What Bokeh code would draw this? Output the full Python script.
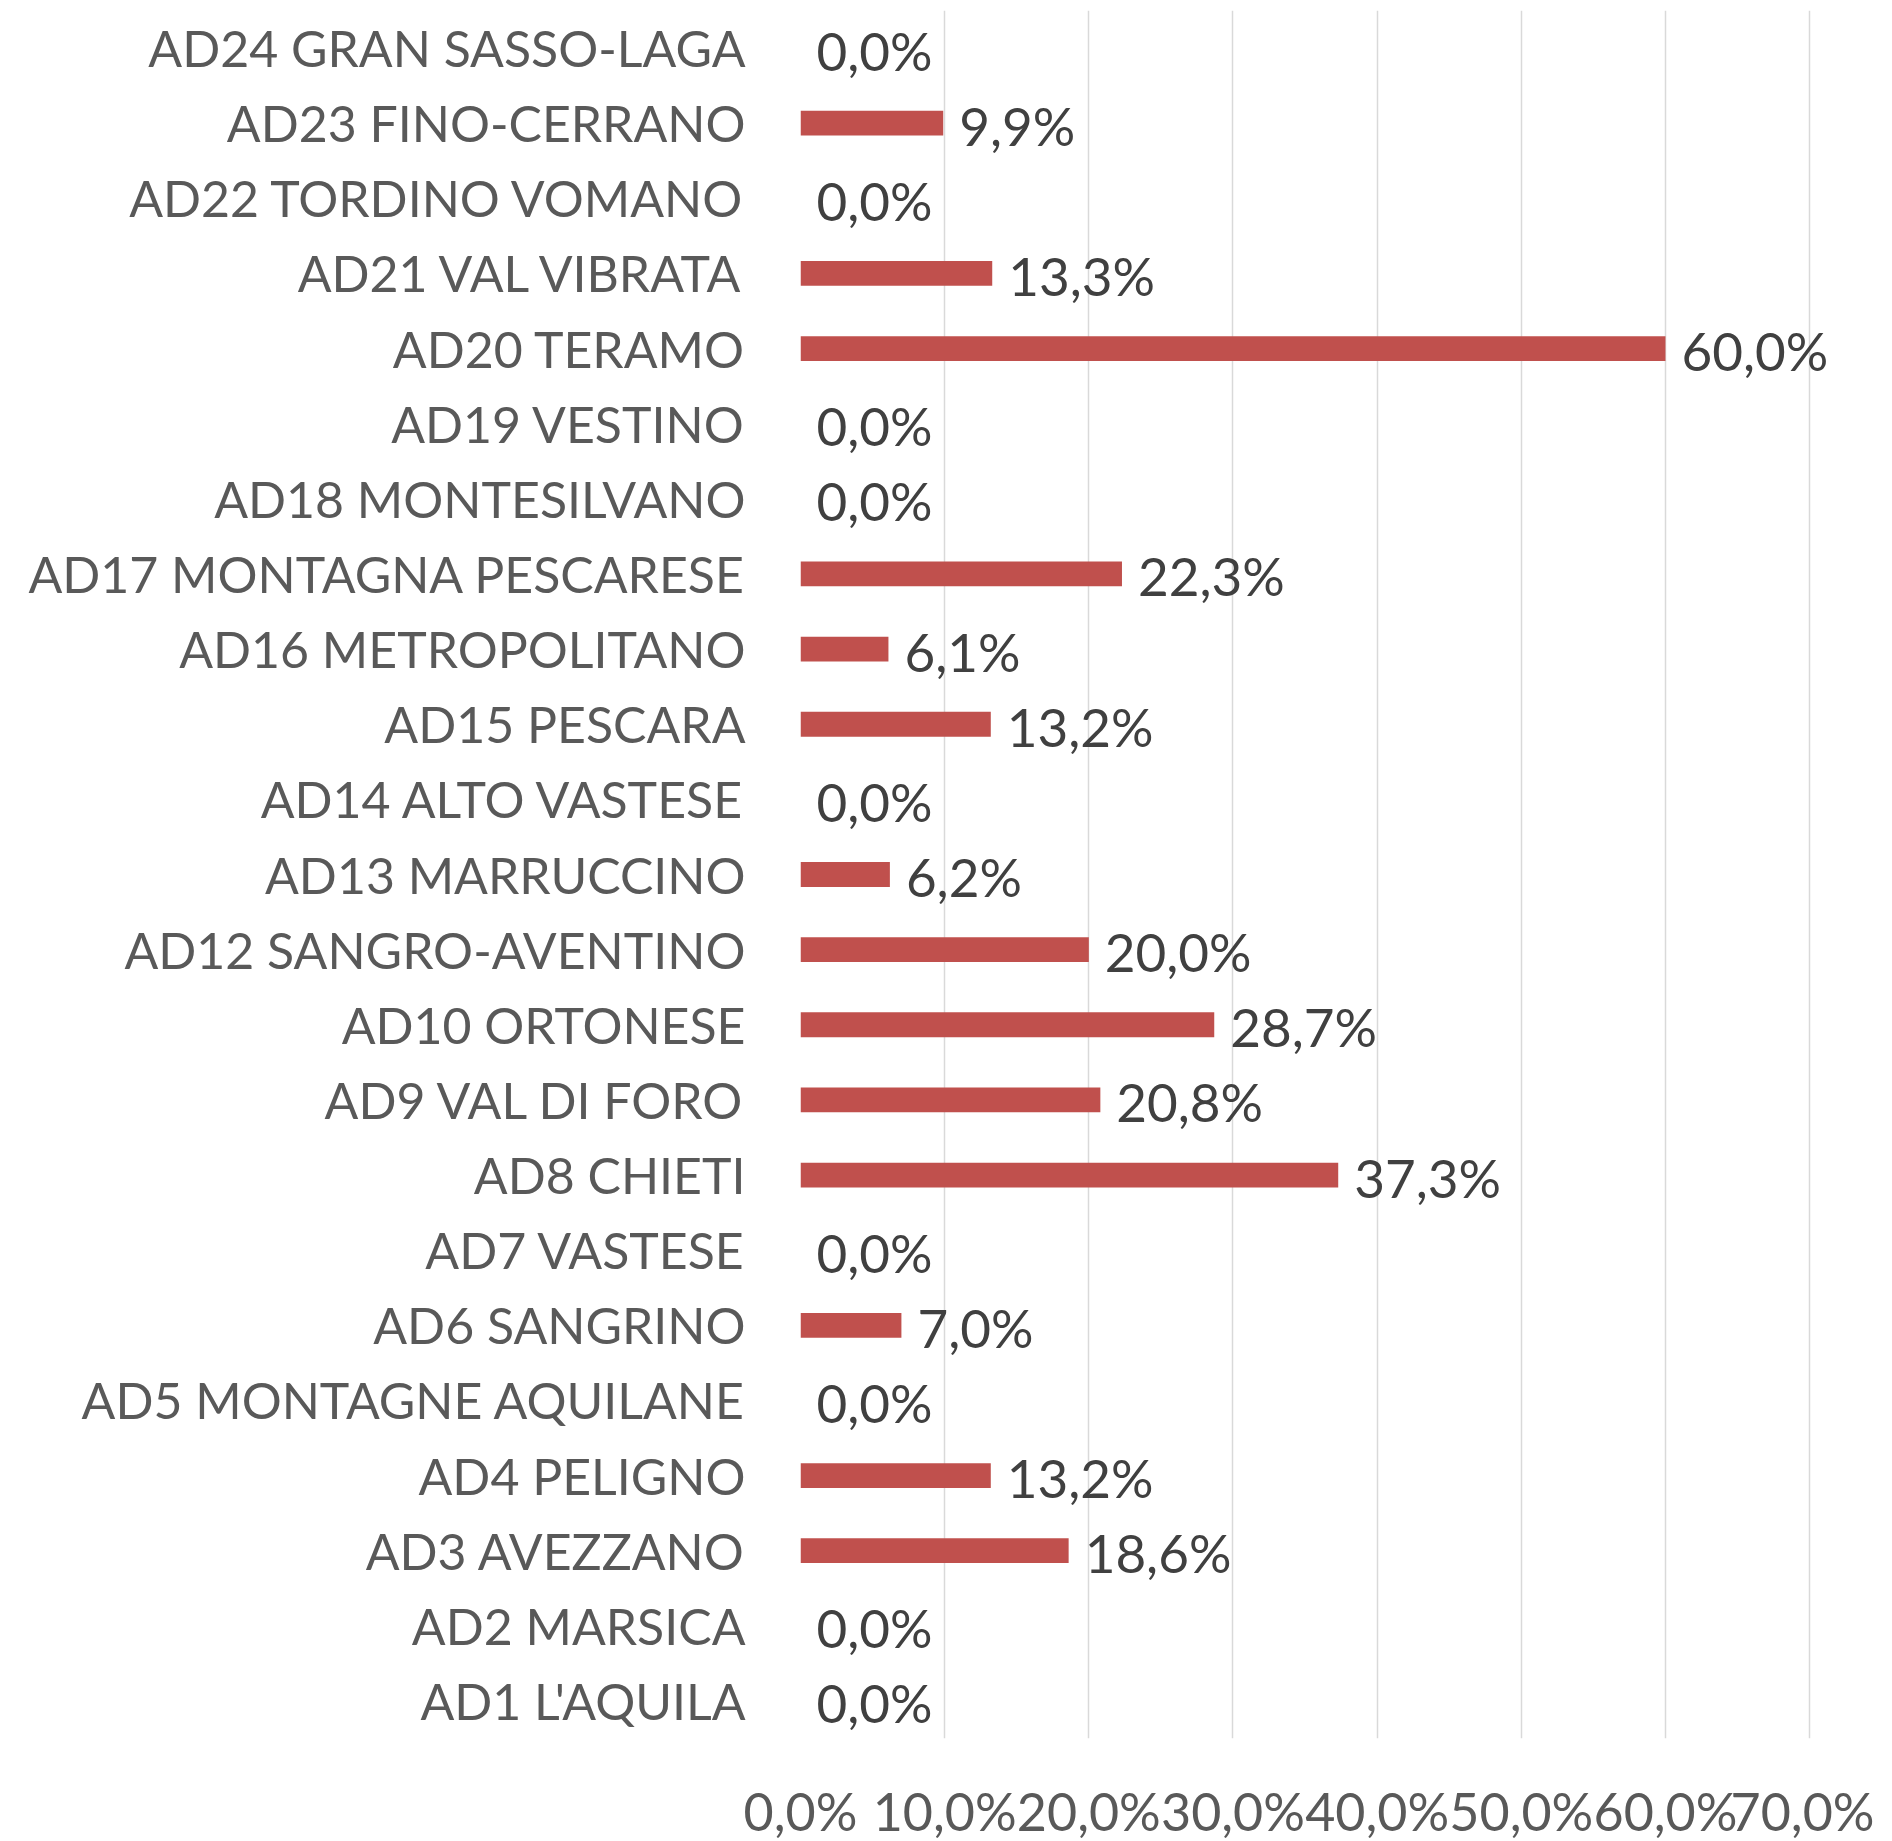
from bokeh.plotting import figure
from bokeh.models import Range1d, FixedTicker, ColumnDataSource
from bokeh.core.properties import value
from bokeh.embed import file_html
from bokeh.resources import INLINE

categories = ["AD1 L'AQUILA", "AD2 MARSICA", "AD3 AVEZZANO", "AD4 PELIGNO",
              "AD5 MONTAGNE AQUILANE", "AD6 SANGRINO", "AD7 VASTESE", "AD8 CHIETI",
              "AD9 VAL DI FORO", "AD10 ORTONESE", "AD12 SANGRO-AVENTINO",
              "AD13 MARRUCCINO", "AD14 ALTO VASTESE", "AD15 PESCARA",
              "AD16 METROPOLITANO", "AD17 MONTAGNA PESCARESE", "AD18 MONTESILVANO",
              "AD19 VESTINO", "AD20 TERAMO", "AD21 VAL VIBRATA",
              "AD22 TORDINO VOMANO", "AD23 FINO-CERRANO", "AD24 GRAN SASSO-LAGA"]
values = [0.0, 0.0, 18.6, 13.2, 0.0, 7.0, 0.0, 37.3, 20.8, 28.7, 20.0, 6.2, 0.0,
          13.2, 6.1, 22.3, 0.0, 0.0, 60.0, 13.3, 0.0, 9.9, 0.0]
x_ticks = [0, 10, 20, 30, 40, 50, 60, 70]

def fmt(v):
    return f"{v:.1f}".replace(".", ",") + "%"

labels = [fmt(v) for v in values]
src = ColumnDataSource(dict(cat=categories, val=values, lab=labels))

FONT = "Lato"

# x range extends a little past 70% so that the 60,0% label is not clipped;
# only gridlines up to 70% are drawn
p = figure(y_range=categories, x_range=Range1d(0, 74.5),
           frame_width=1074, frame_height=1728,
           min_border_left=800, min_border_right=0, min_border_top=10,
           min_border_bottom=90,
           output_backend="svg", toolbar_location=None)
p.outline_line_color = None
p.background_fill_color = "white"
p.border_fill_color = "white"

p.hbar(y="cat", right="val", left=0, height=0.33, fill_color="#C0504D",
       line_color=None, source=src)
p.text(x="val", y="cat", text="lab", source=src, x_offset=16, y_offset=2,
       text_align="left", text_baseline="middle",
       text_font=value(FONT), text_font_size="53px", text_color="#404040")

p.ygrid.grid_line_color = None
p.xgrid.grid_line_color = "#D9D9D9"
p.xgrid.grid_line_width = 1.5
p.xaxis.ticker = FixedTicker(ticks=x_ticks)
p.xaxis.major_label_overrides = {t: fmt(t) for t in x_ticks}

for ax in (p.xaxis, p.yaxis):
    ax.axis_line_color = None
    ax.major_tick_line_color = None
    ax.minor_tick_line_color = None
    ax.major_tick_out = 0
    ax.major_tick_in = 0
    ax.major_label_text_font = FONT
    ax.major_label_text_color = "#595959"

p.yaxis.major_label_text_font_size = "50px"
p.xaxis.major_label_text_font_size = "52px"
p.yaxis.major_label_standoff = 55
p.xaxis.major_label_standoff = 41

open("out.html", "w").write(file_html(p, INLINE))
